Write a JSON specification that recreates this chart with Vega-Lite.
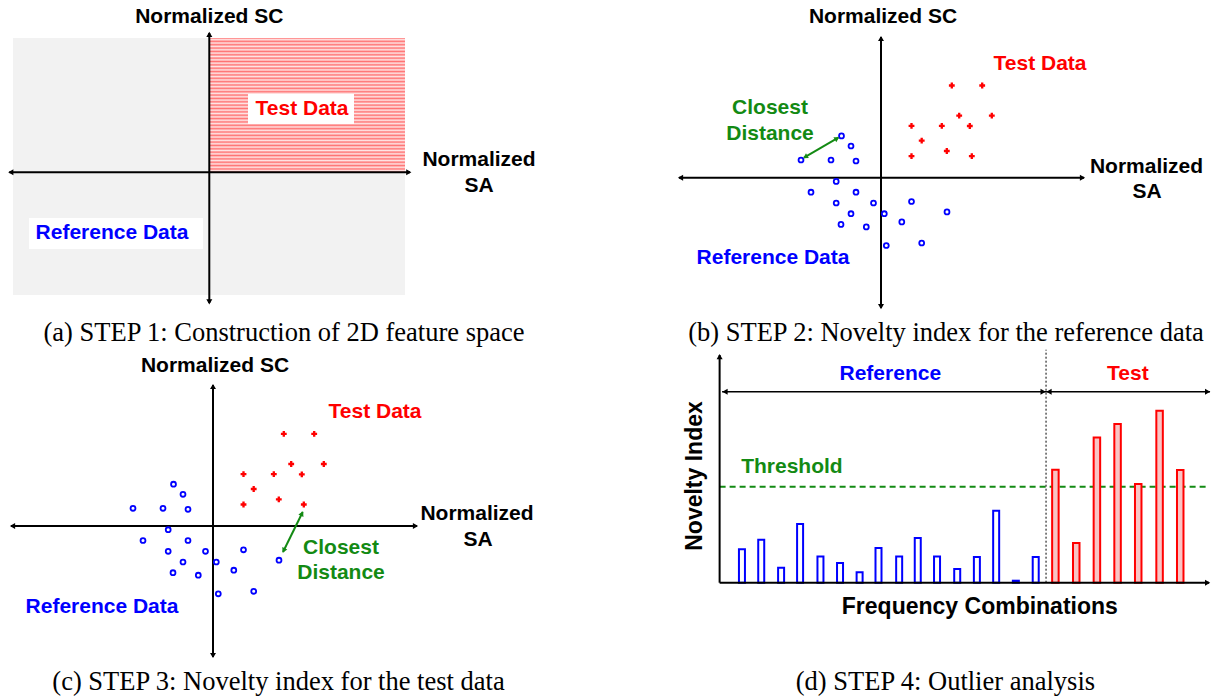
{
  "$schema": "https://vega.github.io/schema/vega-lite/v6.json",
  "padding": 0,
  "background": "white",
  "spacing": 0,
  "config": {"view": {"stroke": null}, "concat": {"spacing": 0}},
  "resolve": {"scale": {"x": "independent", "y": "independent", "color": "independent", "shape": "independent"}},
  "datasets": {
    "reference_points": [
      {"x": -0.80, "y": 0.177}, {"x": -0.395, "y": 0.418}, {"x": -0.30, "y": 0.317}, {"x": -0.50, "y": 0.177},
      {"x": -0.25, "y": 0.167}, {"x": -0.448, "y": -0.037}, {"x": -0.70, "y": -0.145}, {"x": -0.25, "y": -0.145},
      {"x": -0.448, "y": -0.253}, {"x": -0.075, "y": -0.253}, {"x": -0.30, "y": -0.36}, {"x": 0.033, "y": -0.36},
      {"x": 0.305, "y": -0.238}, {"x": 0.66, "y": -0.342}, {"x": -0.40, "y": -0.467}, {"x": -0.147, "y": -0.492},
      {"x": 0.208, "y": -0.442}, {"x": 0.053, "y": -0.678}, {"x": 0.407, "y": -0.653}
    ],
    "test_points": [
      {"x": 0.708, "y": 0.922}, {"x": 1.012, "y": 0.922}, {"x": 0.782, "y": 0.62}, {"x": 1.108, "y": 0.62},
      {"x": 0.305, "y": 0.518}, {"x": 0.608, "y": 0.518}, {"x": 0.888, "y": 0.517}, {"x": 0.407, "y": 0.37},
      {"x": 0.305, "y": 0.215}, {"x": 0.658, "y": 0.267}, {"x": 0.908, "y": 0.215}
    ]
  },
  "vconcat": [
    {
      "spacing": 0,
      "resolve": {"scale": {"x": "independent", "y": "independent", "color": "independent", "shape": "independent"}},
      "hconcat": [
        {
          "width": 600, "height": 348,
          "encoding": {
            "x": {"field": "x", "type": "quantitative", "scale": {"domain": [-2.093, 3.907], "nice": false, "zero": false}, "axis": null},
            "y": {"field": "y", "type": "quantitative", "scale": {"domain": [-1.757, 1.723], "nice": false, "zero": false}, "axis": null}
          },
          "layer": [
            {"data": {"values": [{"region": "feature space", "x": -1.963, "x2": 1.957, "y": 1.343, "y2": -1.227}]},
             "mark": {"type": "rect", "fill": "#f2f2f2"},
             "encoding": {"x2": {"field": "x2"}, "y2": {"field": "y2"}}},
            {"data": {"values": [{"region": "test", "x": 0, "x2": 1.957, "y": 1.343, "y2": 0}]},
             "mark": {"type": "rect", "fill": {"gradient": "linear", "x1": 0, "y1": 0, "x2": 0, "y2": 1, "stops": [
               {"offset": 0, "color": "#ff7373"}, {"offset": 0.0125, "color": "#ffe6e6"}, {"offset": 0.025, "color": "#ff7373"}, {"offset": 0.0375, "color": "#ffe6e6"},
               {"offset": 0.05, "color": "#ff7373"}, {"offset": 0.0625, "color": "#ffe6e6"}, {"offset": 0.075, "color": "#ff7373"}, {"offset": 0.0875, "color": "#ffe6e6"},
               {"offset": 0.1, "color": "#ff7373"}, {"offset": 0.1125, "color": "#ffe6e6"}, {"offset": 0.125, "color": "#ff7373"}, {"offset": 0.1375, "color": "#ffe6e6"},
               {"offset": 0.15, "color": "#ff7373"}, {"offset": 0.1625, "color": "#ffe6e6"}, {"offset": 0.175, "color": "#ff7373"}, {"offset": 0.1875, "color": "#ffe6e6"},
               {"offset": 0.2, "color": "#ff7373"}, {"offset": 0.2125, "color": "#ffe6e6"}, {"offset": 0.225, "color": "#ff7373"}, {"offset": 0.2375, "color": "#ffe6e6"},
               {"offset": 0.25, "color": "#ff7373"}, {"offset": 0.2625, "color": "#ffe6e6"}, {"offset": 0.275, "color": "#ff7373"}, {"offset": 0.2875, "color": "#ffe6e6"},
               {"offset": 0.3, "color": "#ff7373"}, {"offset": 0.3125, "color": "#ffe6e6"}, {"offset": 0.325, "color": "#ff7373"}, {"offset": 0.3375, "color": "#ffe6e6"},
               {"offset": 0.35, "color": "#ff7373"}, {"offset": 0.3625, "color": "#ffe6e6"}, {"offset": 0.375, "color": "#ff7373"}, {"offset": 0.3875, "color": "#ffe6e6"},
               {"offset": 0.4, "color": "#ff7373"}, {"offset": 0.4125, "color": "#ffe6e6"}, {"offset": 0.425, "color": "#ff7373"}, {"offset": 0.4375, "color": "#ffe6e6"},
               {"offset": 0.45, "color": "#ff7373"}, {"offset": 0.4625, "color": "#ffe6e6"}, {"offset": 0.475, "color": "#ff7373"}, {"offset": 0.4875, "color": "#ffe6e6"},
               {"offset": 0.5, "color": "#ff7373"}, {"offset": 0.5125, "color": "#ffe6e6"}, {"offset": 0.525, "color": "#ff7373"}, {"offset": 0.5375, "color": "#ffe6e6"},
               {"offset": 0.55, "color": "#ff7373"}, {"offset": 0.5625, "color": "#ffe6e6"}, {"offset": 0.575, "color": "#ff7373"}, {"offset": 0.5875, "color": "#ffe6e6"},
               {"offset": 0.6, "color": "#ff7373"}, {"offset": 0.6125, "color": "#ffe6e6"}, {"offset": 0.625, "color": "#ff7373"}, {"offset": 0.6375, "color": "#ffe6e6"},
               {"offset": 0.65, "color": "#ff7373"}, {"offset": 0.6625, "color": "#ffe6e6"}, {"offset": 0.675, "color": "#ff7373"}, {"offset": 0.6875, "color": "#ffe6e6"},
               {"offset": 0.7, "color": "#ff7373"}, {"offset": 0.7125, "color": "#ffe6e6"}, {"offset": 0.725, "color": "#ff7373"}, {"offset": 0.7375, "color": "#ffe6e6"},
               {"offset": 0.75, "color": "#ff7373"}, {"offset": 0.7625, "color": "#ffe6e6"}, {"offset": 0.775, "color": "#ff7373"}, {"offset": 0.7875, "color": "#ffe6e6"},
               {"offset": 0.8, "color": "#ff7373"}, {"offset": 0.8125, "color": "#ffe6e6"}, {"offset": 0.825, "color": "#ff7373"}, {"offset": 0.8375, "color": "#ffe6e6"},
               {"offset": 0.85, "color": "#ff7373"}, {"offset": 0.8625, "color": "#ffe6e6"}, {"offset": 0.875, "color": "#ff7373"}, {"offset": 0.8875, "color": "#ffe6e6"},
               {"offset": 0.9, "color": "#ff7373"}, {"offset": 0.9125, "color": "#ffe6e6"}, {"offset": 0.925, "color": "#ff7373"}, {"offset": 0.9375, "color": "#ffe6e6"},
               {"offset": 0.95, "color": "#ff7373"}, {"offset": 0.9625, "color": "#ffe6e6"}, {"offset": 0.975, "color": "#ff7373"}, {"offset": 0.9875, "color": "#ffe6e6"},
               {"offset": 1, "color": "#ff7373"}]}},
             "encoding": {"x2": {"field": "x2"}, "y2": {"field": "y2"}}},
            {"data": {"values": [
               {"box": "Test Data", "x": 0.387, "x2": 1.447, "y": 0.783, "y2": 0.483},
               {"box": "Reference Data", "x": -1.803, "x2": -0.063, "y": -0.457, "y2": -0.767}]},
             "mark": {"type": "rect", "fill": "#ffffff"},
             "encoding": {"x2": {"field": "x2"}, "y2": {"field": "y2"}}},
            {"data": {"values": [
               {"axis": "Normalized SA", "x": -2.0, "x2": 2.007, "y": 0, "y2": 0},
               {"axis": "Normalized SC", "x": 0, "x2": 0, "y": 1.393, "y2": -1.307}]},
             "mark": {"type": "rule", "color": "#000000", "strokeWidth": 2},
             "encoding": {"x2": {"field": "x2"}, "y2": {"field": "y2"}}},
            {"data": {"values": [
               {"dir": "left", "x": -1.985, "y": 0}, {"dir": "right", "x": 1.995, "y": 0},
               {"dir": "up", "x": 0, "y": 1.38}, {"dir": "down", "x": 0, "y": -1.295}]},
             "mark": {"type": "point", "filled": true, "color": "#000000", "size": 36, "opacity": 1},
             "encoding": {"shape": {"field": "dir", "type": "nominal", "scale": {"domain": ["left", "right", "up", "down"], "range": ["triangle-left", "triangle-right", "triangle-up", "triangle-down"]}, "legend": null}}},
            {"data": {"values": [
               {"label": "Normalized SC", "grp": "axis", "x": 0, "y": 1.553},
               {"label": "Normalized", "grp": "axis", "x": 2.697, "y": 0.123},
               {"label": "SA", "grp": "axis", "x": 2.697, "y": -0.137},
               {"label": "Test Data", "grp": "test", "x": 0.927, "y": 0.633},
               {"label": "Reference Data", "grp": "reference", "x": -0.973, "y": -0.607}]},
             "mark": {"type": "text", "font": "Liberation Sans", "fontWeight": "bold", "fontSize": 21, "align": "center", "baseline": "middle"},
             "encoding": {"text": {"field": "label"}, "color": {"field": "grp", "type": "nominal", "scale": {"domain": ["axis", "test", "reference", "distance", "threshold"], "range": ["#000000", "#ff0000", "#0000ff", "#138a13", "#138a13"]}, "legend": null}}},
            {"data": {"values": [{"label": "(a) STEP 1: Construction of 2D feature space", "x": 0.747, "y": -1.607}]},
             "mark": {"type": "text", "font": "Liberation Serif", "fontSize": 26.5, "color": "#000000", "align": "center", "baseline": "middle"},
             "encoding": {"text": {"field": "label"}}}
          ]
        },
        {
          "width": 618, "height": 348,
          "encoding": {
            "x": {"field": "x", "type": "quantitative", "scale": {"domain": [-2.81, 3.37], "nice": false, "zero": false}, "axis": null},
            "y": {"field": "y", "type": "quantitative", "scale": {"domain": [-1.703, 1.777], "nice": false, "zero": false}, "axis": null}
          },
          "layer": [
            {"data": {"values": [
               {"axis": "Normalized SA", "x": -2.02, "x2": 2.03, "y": 0, "y2": 0},
               {"axis": "Normalized SC", "x": 0, "x2": 0, "y": 1.407, "y2": -1.303}]},
             "mark": {"type": "rule", "color": "#000000", "strokeWidth": 2},
             "encoding": {"x2": {"field": "x2"}, "y2": {"field": "y2"}}},
            {"data": {"values": [
               {"dir": "left", "x": -2.005, "y": 0}, {"dir": "right", "x": 2.015, "y": 0},
               {"dir": "up", "x": 0, "y": 1.392}, {"dir": "down", "x": 0, "y": -1.29}]},
             "mark": {"type": "point", "filled": true, "color": "#000000", "size": 36, "opacity": 1},
             "encoding": {"shape": {"field": "dir", "type": "nominal", "scale": {"domain": ["left", "right", "up", "down"], "range": ["triangle-left", "triangle-right", "triangle-up", "triangle-down"]}, "legend": null}}},
            {"data": {"name": "reference_points"},
             "mark": {"type": "point", "shape": "circle", "filled": false, "stroke": "#0000ff", "strokeWidth": 1.8, "size": 24, "opacity": 1}},
            {"data": {"name": "test_points"},
             "mark": {"type": "point", "shape": "cross", "filled": true, "color": "#ff0000", "size": 34, "opacity": 1}},
            {"data": {"values": [{"link": "closest distance", "x": -0.77, "y": 0.2, "x2": -0.427, "y2": 0.4}]},
             "mark": {"type": "rule", "color": "#138a13", "strokeWidth": 2},
             "encoding": {"x2": {"field": "x2"}, "y2": {"field": "y2"}}},
            {"data": {"values": [{"dir": "left", "x": -0.757, "y": 0.208}, {"dir": "right", "x": -0.44, "y": 0.392}]},
             "mark": {"type": "point", "filled": true, "color": "#138a13", "size": 32, "opacity": 1, "angle": -30.3},
             "encoding": {"shape": {"field": "dir", "type": "nominal", "scale": {"domain": ["left", "right", "up", "down"], "range": ["triangle-left", "triangle-right", "triangle-up", "triangle-down"]}, "legend": null}}},
            {"data": {"values": [
               {"label": "Normalized SC", "grp": "axis", "x": 0.02, "y": 1.607},
               {"label": "Test Data", "grp": "test", "x": 1.59, "y": 1.137},
               {"label": "Closest", "grp": "distance", "x": -1.11, "y": 0.697},
               {"label": "Distance", "grp": "distance", "x": -1.11, "y": 0.437},
               {"label": "Normalized", "grp": "axis", "x": 2.655, "y": 0.107},
               {"label": "SA", "grp": "axis", "x": 2.66, "y": -0.143},
               {"label": "Reference Data", "grp": "reference", "x": -1.08, "y": -0.803}]},
             "mark": {"type": "text", "font": "Liberation Sans", "fontWeight": "bold", "fontSize": 21, "align": "center", "baseline": "middle"},
             "encoding": {"text": {"field": "label"}, "color": {"field": "grp", "type": "nominal", "scale": {"domain": ["axis", "test", "reference", "distance", "threshold"], "range": ["#000000", "#ff0000", "#0000ff", "#138a13", "#138a13"]}, "legend": null}}},
            {"data": {"values": [{"label": "(b) STEP 2: Novelty index for the reference data", "x": 0.65, "y": -1.553}]},
             "mark": {"type": "text", "font": "Liberation Serif", "fontSize": 26.5, "color": "#000000", "align": "center", "baseline": "middle"},
             "encoding": {"text": {"field": "label"}}}
          ]
        }
      ]
    },
    {
      "spacing": 0,
      "resolve": {"scale": {"x": "independent", "y": "independent", "color": "independent", "shape": "independent"}},
      "hconcat": [
        {
          "width": 600, "height": 350,
          "encoding": {
            "x": {"field": "x", "type": "quantitative", "scale": {"domain": [-2.13, 3.87], "nice": false, "zero": false}, "axis": null},
            "y": {"field": "y", "type": "quantitative", "scale": {"domain": [-1.72, 1.78], "nice": false, "zero": false}, "axis": null}
          },
          "layer": [
            {"data": {"values": [
               {"axis": "Normalized SA", "x": -2.02, "x2": 2.04, "y": 0, "y2": 0},
               {"axis": "Normalized SC", "x": 0, "x2": 0, "y": 1.41, "y2": -1.31}]},
             "mark": {"type": "rule", "color": "#000000", "strokeWidth": 2},
             "encoding": {"x2": {"field": "x2"}, "y2": {"field": "y2"}}},
            {"data": {"values": [
               {"dir": "left", "x": -2.005, "y": 0}, {"dir": "right", "x": 2.025, "y": 0},
               {"dir": "up", "x": 0, "y": 1.395}, {"dir": "down", "x": 0, "y": -1.295}]},
             "mark": {"type": "point", "filled": true, "color": "#000000", "size": 36, "opacity": 1},
             "encoding": {"shape": {"field": "dir", "type": "nominal", "scale": {"domain": ["left", "right", "up", "down"], "range": ["triangle-left", "triangle-right", "triangle-up", "triangle-down"]}, "legend": null}}},
            {"data": {"name": "reference_points"},
             "mark": {"type": "point", "shape": "circle", "filled": false, "stroke": "#0000ff", "strokeWidth": 1.8, "size": 24, "opacity": 1}},
            {"data": {"name": "test_points"},
             "mark": {"type": "point", "shape": "cross", "filled": true, "color": "#ff0000", "size": 34, "opacity": 1}},
            {"data": {"values": [{"link": "closest distance", "x": 0.70, "y": -0.26, "x2": 0.897, "y2": 0.14}]},
             "mark": {"type": "rule", "color": "#138a13", "strokeWidth": 2},
             "encoding": {"x2": {"field": "x2"}, "y2": {"field": "y2"}}},
            {"data": {"values": [{"dir": "left", "x": 0.707, "y": -0.245}, {"dir": "right", "x": 0.89, "y": 0.125}]},
             "mark": {"type": "point", "filled": true, "color": "#138a13", "size": 32, "opacity": 1, "angle": -63.8},
             "encoding": {"shape": {"field": "dir", "type": "nominal", "scale": {"domain": ["left", "right", "up", "down"], "range": ["triangle-left", "triangle-right", "triangle-up", "triangle-down"]}, "legend": null}}},
            {"data": {"values": [
               {"label": "Normalized SC", "grp": "axis", "x": 0.02, "y": 1.60},
               {"label": "Test Data", "grp": "test", "x": 1.62, "y": 1.14},
               {"label": "Normalized", "grp": "axis", "x": 2.64, "y": 0.12},
               {"label": "SA", "grp": "axis", "x": 2.65, "y": -0.14},
               {"label": "Closest", "grp": "distance", "x": 1.28, "y": -0.22},
               {"label": "Distance", "grp": "distance", "x": 1.28, "y": -0.47},
               {"label": "Reference Data", "grp": "reference", "x": -1.11, "y": -0.81}]},
             "mark": {"type": "text", "font": "Liberation Sans", "fontWeight": "bold", "fontSize": 21, "align": "center", "baseline": "middle"},
             "encoding": {"text": {"field": "label"}, "color": {"field": "grp", "type": "nominal", "scale": {"domain": ["axis", "test", "reference", "distance", "threshold"], "range": ["#000000", "#ff0000", "#0000ff", "#138a13", "#138a13"]}, "legend": null}}},
            {"data": {"values": [{"label": "(c) STEP 3: Novelty index for the test data", "x": 0.655, "y": -1.56}]},
             "mark": {"type": "text", "font": "Liberation Serif", "fontSize": 26.5, "color": "#000000", "align": "center", "baseline": "middle"},
             "encoding": {"text": {"field": "label"}}}
          ]
        },
        {
          "width": 618, "height": 350,
          "encoding": {
            "x": {"field": "x", "type": "quantitative", "scale": {"domain": [-11.65, 50.15], "nice": false, "zero": false}, "axis": null},
            "y": {"field": "y", "type": "quantitative", "scale": {"domain": [-11.53, 23.47], "nice": false, "zero": false}, "axis": null}
          },
          "layer": [
            {"data": {"values": [{"line": "threshold", "x": 0, "x2": 49.75, "y": 9.6, "y2": 9.6}]},
             "mark": {"type": "rule", "color": "#138a13", "strokeWidth": 2, "strokeDash": [6, 4]},
             "encoding": {"x2": {"field": "x2"}, "y2": {"field": "y2"}}},
            {"data": {"values": [
               {"combination": "R1", "x": 2.27, "y": 3.35}, {"combination": "R2", "x": 4.23, "y": 4.3},
               {"combination": "R3", "x": 6.25, "y": 1.5}, {"combination": "R4", "x": 8.18, "y": 5.88},
               {"combination": "R5", "x": 10.25, "y": 2.63}, {"combination": "R6", "x": 12.24, "y": 1.98},
               {"combination": "R7", "x": 14.23, "y": 1.04}, {"combination": "R8", "x": 16.15, "y": 3.48},
               {"combination": "R9", "x": 18.25, "y": 2.63}, {"combination": "R10", "x": 20.14, "y": 4.48},
               {"combination": "R11", "x": 22.1, "y": 2.63}, {"combination": "R12", "x": 24.15, "y": 1.38},
               {"combination": "R13", "x": 26.15, "y": 2.58}, {"combination": "R14", "x": 28.11, "y": 7.2},
               {"combination": "R15", "x": 30.11, "y": 0.2}, {"combination": "R16", "x": 32.13, "y": 2.58}]},
             "mark": {"type": "bar", "width": 6, "fill": "#ffffff", "stroke": "#0000ff", "strokeWidth": 2},
             "encoding": {"y2": {"datum": 0}}},
            {"data": {"values": [
               {"combination": "T1", "x": 34.13, "y": 11.3}, {"combination": "T2", "x": 36.25, "y": 3.97},
               {"combination": "T3", "x": 38.35, "y": 14.53}, {"combination": "T4", "x": 40.45, "y": 15.87},
               {"combination": "T5", "x": 42.55, "y": 9.87}, {"combination": "T6", "x": 44.72, "y": 17.2},
               {"combination": "T7", "x": 46.82, "y": 11.27}]},
             "mark": {"type": "bar", "width": 6.5, "fill": "#f9c4c4", "stroke": "#ff0000", "strokeWidth": 2},
             "encoding": {"y2": {"datum": 0}}},
            {"data": {"values": [
               {"axis": "Novelty Index", "x": 0, "x2": 0, "y": 0, "y2": 22.77},
               {"axis": "Frequency Combinations", "x": 0, "x2": 49.75, "y": 0, "y2": 0}]},
             "mark": {"type": "rule", "color": "#000000", "strokeWidth": 2},
             "encoding": {"x2": {"field": "x2"}, "y2": {"field": "y2"}}},
            {"data": {"values": [{"divider": "reference | test", "x": 33.18, "x2": 33.18, "y": 0, "y2": 23.3}]},
             "mark": {"type": "rule", "color": "#000000", "strokeWidth": 1, "strokeDash": [2, 2]},
             "encoding": {"x2": {"field": "x2"}, "y2": {"field": "y2"}}},
            {"data": {"values": [
               {"span": "Reference", "x": 0.25, "x2": 33.18, "y": 19.1, "y2": 19.1},
               {"span": "Test", "x": 33.18, "x2": 49.85, "y": 19.1, "y2": 19.1}]},
             "mark": {"type": "rule", "color": "#000000", "strokeWidth": 1.5},
             "encoding": {"x2": {"field": "x2"}, "y2": {"field": "y2"}}},
            {"data": {"values": [
               {"dir": "left", "x": 0.55, "y": 19.1}, {"dir": "right", "x": 32.88, "y": 19.1},
               {"dir": "left", "x": 33.48, "y": 19.1}, {"dir": "right", "x": 49.6, "y": 19.1},
               {"dir": "up", "x": 0, "y": 22.6}, {"dir": "right", "x": 49.6, "y": 0}]},
             "mark": {"type": "point", "filled": true, "color": "#000000", "size": 36, "opacity": 1},
             "encoding": {"shape": {"field": "dir", "type": "nominal", "scale": {"domain": ["left", "right", "up", "down"], "range": ["triangle-left", "triangle-right", "triangle-up", "triangle-down"]}, "legend": null}}},
            {"data": {"values": [
               {"label": "Reference", "grp": "reference", "x": 17.35, "y": 20.84},
               {"label": "Test", "grp": "test", "x": 41.5, "y": 20.87},
               {"label": "Threshold", "grp": "threshold", "x": 7.35, "y": 11.6}]},
             "mark": {"type": "text", "font": "Liberation Sans", "fontWeight": "bold", "fontSize": 21, "align": "center", "baseline": "middle"},
             "encoding": {"text": {"field": "label"}, "color": {"field": "grp", "type": "nominal", "scale": {"domain": ["axis", "test", "reference", "distance", "threshold"], "range": ["#000000", "#ff0000", "#0000ff", "#138a13", "#138a13"]}, "legend": null}}},
            {"data": {"values": [{"label": "Frequency Combinations", "x": 26.45, "y": -2.4}]},
             "mark": {"type": "text", "font": "Liberation Sans", "fontWeight": "bold", "fontSize": 23, "color": "#000000", "align": "center", "baseline": "middle"},
             "encoding": {"text": {"field": "label"}}},
            {"data": {"values": [{"label": "Novelty Index", "x": -2.55, "y": 10.67}]},
             "mark": {"type": "text", "font": "Liberation Sans", "fontWeight": "bold", "fontSize": 23, "color": "#000000", "align": "center", "baseline": "middle", "angle": 270},
             "encoding": {"text": {"field": "label"}}},
            {"data": {"values": [{"label": "(d) STEP 4: Outlier analysis", "x": 22.95, "y": -9.9}]},
             "mark": {"type": "text", "font": "Liberation Serif", "fontSize": 26.5, "color": "#000000", "align": "center", "baseline": "middle"},
             "encoding": {"text": {"field": "label"}}}
          ]
        }
      ]
    }
  ]
}
